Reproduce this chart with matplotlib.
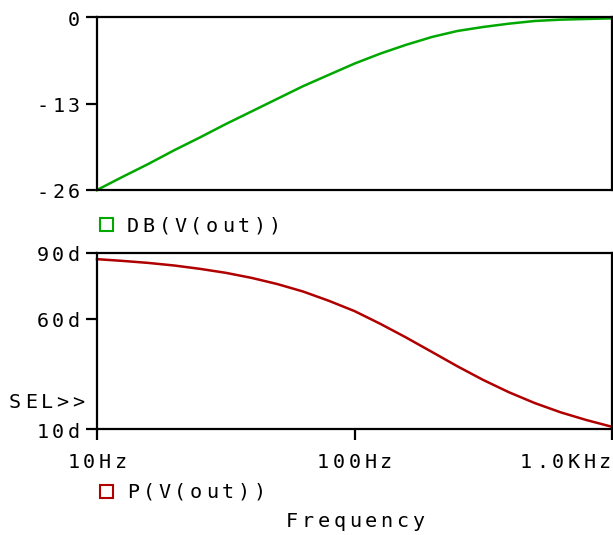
import matplotlib
matplotlib.use("Agg")
import matplotlib.pyplot as plt
from matplotlib.transforms import IdentityTransform
from matplotlib.patches import Rectangle

# ---------------- data ----------------
freq_hz = [10, 12.6, 15.8, 20, 25.1, 31.6, 39.8, 50.1, 63.1, 79.4, 100,
           126, 158, 200, 251, 316, 398, 501, 631, 794, 1000]
gain_db = [-26.0, -24.0, -22.1, -20.0, -18.1, -16.1, -14.2, -12.3, -10.4, -8.7, -7.0,
           -5.5, -4.2, -3.0, -2.1, -1.5, -1.0, -0.6, -0.4, -0.3, -0.2]
phase_deg = [87.2, 86.4, 85.5, 84.3, 82.8, 81.0, 78.7, 75.9, 72.5, 68.3, 63.6,
             57.8, 51.7, 45.0, 38.5, 32.3, 26.7, 21.8, 17.6, 14.1, 11.0]

gain_ticks = [0, -13, -26]
gain_tick_labels = ["0", "-13", "-26"]
phase_ticks = [90, 60, 10]
phase_tick_labels = ["90d", "60d", "10d"]
freq_ticks = [10, 100, 1000]
freq_tick_labels = ["10Hz", "100Hz", "1.0KHz"]
trace_names = ["DB(V(out))", "P(V(out))"]
x_title = "Frequency"
sel_mark = "SEL>>"

GREEN = "#00a800"
RED = "#b00000"

W, H = 613, 535
fig = plt.figure(figsize=(W / 100, H / 100), dpi=100)
fig.patch.set_facecolor("white")

FONT = "DejaVu Sans Mono"
FS = 14.5
PITCH = 15.8
CAP_HALF = 7.0


def px(x, y):
    """image pixel (top-left origin) -> display coords"""
    return x, H - y


def spaced(s, x, yc, ha="left", color="black"):
    n = len(s)
    total = PITCH * n
    if ha == "left":
        start = x
    elif ha == "right":
        start = x - total
    else:
        start = x - total / 2
    for i, ch in enumerate(s):
        cx = start + PITCH * (i + 0.5)
        dx, dy = px(cx, yc + CAP_HALF)
        fig.text(dx, dy, ch, transform=IdentityTransform(), ha="center",
                 va="baseline", fontsize=FS, family=FONT, color=color)


def make_ax(top, bottom):
    ax = fig.add_axes([97 / W, 1 - bottom / H, 515 / W, (bottom - top) / H])
    ax.set_xscale("log")
    ax.set_xlim(10, 1000)
    for sp in ax.spines.values():
        sp.set_linewidth(1.6)
        sp.set_color("black")
    ax.tick_params(axis="both", which="both", direction="out", length=8,
                   width=1.6, labelleft=False, labelbottom=False)
    ax.minorticks_off()
    return ax


ax1 = make_ax(17, 190)
ax1.set_ylim(-26, 0)
ax1.plot(freq_hz, gain_db, color=GREEN, lw=1.8, clip_on=False)
ax1.set_yticks(gain_ticks)
ax1.set_xticks([])

ax2 = make_ax(253, 429)
ax2.set_ylim(10, 90)
ax2.plot(freq_hz, phase_deg, color=RED, lw=1.8, clip_on=False)
ax2.set_yticks(phase_ticks)
ax2.set_xticks(freq_ticks)

# tick labels (letter-spaced, placed from axis transforms)
for v, lab in zip(gain_ticks, gain_tick_labels):
    y = H - ax1.transData.transform((10, v))[1]
    spaced(lab, 82, y + 1.5, ha="right")
for v, lab in zip(phase_ticks, phase_tick_labels):
    y = H - ax2.transData.transform((10, v))[1]
    spaced(lab, 82, y + 1.5, ha="right")
for v, lab in zip(freq_ticks, freq_tick_labels):
    x = ax2.transData.transform((v, 10))[0]
    if v == freq_ticks[-1]:
        spaced(lab, 613, 460.5, ha="right")
    else:
        spaced(lab, x, 460.5, ha="center")

spaced(sel_mark, 86, 401, ha="right")

# legend entries
for (yc, col, name) in [(224.5, GREEN, trace_names[0]), (491, RED, trace_names[1])]:
    x0, y0 = px(100, yc + 6.5)
    fig.patches.append(Rectangle((x0, y0), 13, 13, fill=False, edgecolor=col,
                                 lw=1.5, transform=IdentityTransform()))
    spaced(name, 125, yc, ha="left")

spaced(x_title, 355, 520, ha="center")

fig.savefig("out.png", dpi=100, facecolor="white")
